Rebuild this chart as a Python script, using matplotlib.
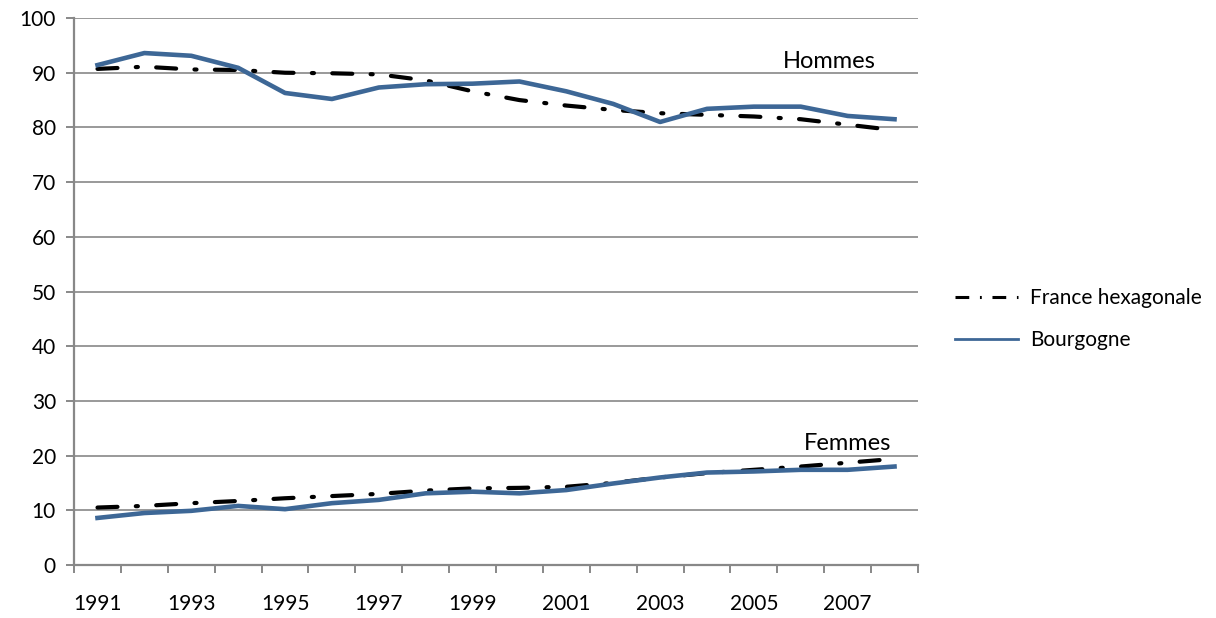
import numpy as np
import matplotlib.pyplot as plt
from matplotlib.lines import Line2D

years = list(range(1991, 2009))

# Hommes
france_h = [90.7, 91.1, 90.6, 90.5, 90.0, 89.9, 89.7, 88.6, 86.6, 85.0, 84.0, 83.2, 82.6, 82.3, 82.0, 81.5, 80.5, 79.5]
bourgogne_h = [91.4, 93.6, 93.1, 90.9, 86.3, 85.2, 87.3, 87.9, 88.0, 88.4, 86.6, 84.3, 81.0, 83.4, 83.8, 83.8, 82.1, 81.5]

# Femmes
france_f = [10.5, 10.8, 11.3, 11.7, 12.2, 12.6, 13.0, 13.6, 14.0, 14.1, 14.3, 15.0, 16.0, 16.8, 17.4, 18.0, 18.7, 19.4]
bourgogne_f = [8.6, 9.5, 9.9, 10.8, 10.2, 11.3, 11.9, 13.1, 13.4, 13.1, 13.7, 14.9, 16.0, 16.9, 17.1, 17.4, 17.4, 18.0]

plt.rcParams['font.family'] = ['Lato', 'DejaVu Sans']

fig = plt.figure(figsize=(12.16, 6.18), dpi=100)
ax = fig.add_axes([0.0609, 0.0858, 0.694, 0.885])

x = np.arange(len(years))
blue = '#3d6796'
dashdot = (0, (4.8, 4.4, 0.5, 4.4))

for yv in (france_h, france_f):
    ax.plot(x, yv, color='black', lw=3.0, linestyle=dashdot, dash_capstyle='round', zorder=3)
for yv in (bourgogne_h, bourgogne_f):
    ax.plot(x, yv, color=blue, lw=3.3, zorder=4)

ax.set_xlim(-0.5, len(years) - 0.5)
ax.set_ylim(0, 100)
ax.set_yticks(range(0, 101, 10))
ax.yaxis.grid(True, color='#999999', lw=1.4)
ax.set_axisbelow(True)

# category axis: tick marks between categories, labels every other year
ax.set_xticks(np.arange(-0.5, len(years), 1.0))
ax.set_xticklabels([])
ax.set_xticks(x[::2], minor=True)
ax.set_xticklabels([str(y) for y in years[::2]], minor=True)
ax.tick_params(axis='x', which='minor', length=0, pad=21, labelsize=15)
ax.tick_params(axis='x', which='major', length=6, width=1.4, color='#888888')
ax.tick_params(axis='y', length=6, width=1.4, color='#888888', labelsize=15, pad=7)

for s in ['top', 'right']:
    ax.spines[s].set_visible(False)
for s in ['left', 'bottom']:
    ax.spines[s].set_color('#888888')
    ax.spines[s].set_linewidth(1.6)

ax.text(15.6, 92.0, 'Hommes', fontsize=17, ha='center', va='center')
ax.text(16.0, 22.3, 'Femmes', fontsize=17, ha='center', va='center')

handles = [Line2D([], [], color='black', lw=2.2, linestyle=(0, (4.5, 3.5, 0.6, 3.5))),
           Line2D([], [], color=blue, lw=2.0)]
ax.legend(handles, ['France hexagonale', 'Bourgogne'], loc='center left',
          bbox_to_anchor=(1.022, 0.45), frameon=False,
          fontsize=15, handlelength=3.0, labelspacing=1.05, handletextpad=0.6)

fig.savefig('out.png', dpi=100)
